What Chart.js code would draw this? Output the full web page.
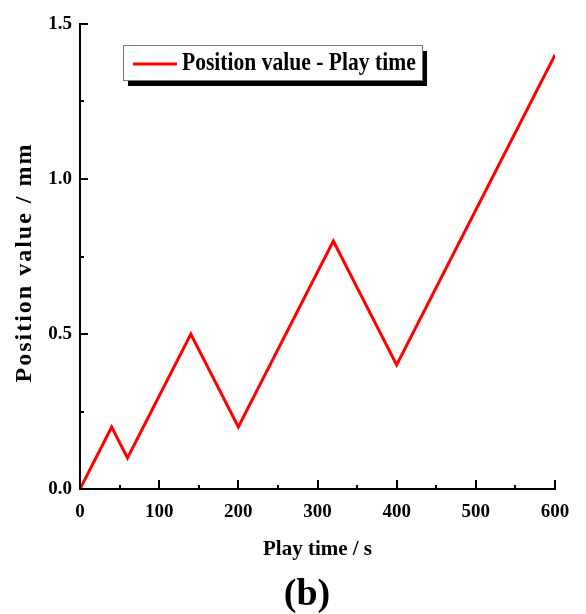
<!DOCTYPE html>
<html>
<head>
<meta charset="utf-8">
<script src="https://cdn.jsdelivr.net/npm/chart.js@4/dist/chart.umd.min.js"></script>
<style>
  html, body { margin: 0; padding: 0; background: #fff; }
  #wrap { width: 586px; height: 614px; }
</style>
</head>
<body>
<div id="wrap"><canvas id="positionChart" width="586" height="614"></canvas></div>
<script>
/* Data */
const playTime = [0, 40, 60, 140, 200, 320, 400, 600];
const positionValue = [0, 0.2, 0.1, 0.5, 0.2, 0.8, 0.4, 1.4];
const seriesLabel = 'Position value - Play time';
const xTitle = 'Play time / s';
const yTitle = 'Position value / mm';
const panelTag = '(b)';

const serif = '"Liberation Serif", "Times New Roman", serif';

// Inward major/minor ticks, y axis title, panel tag and boxed legend with a drop shadow
const decorPlugin = {
  id: 'decor',
  afterDraw(chart) {
    const ctx = chart.ctx;
    const xs = chart.scales.x;
    const ys = chart.scales.y;
    const area = chart.chartArea;
    ctx.save();
    ctx.strokeStyle = '#000';
    ctx.lineWidth = 2;
    // x ticks every 50, long ones every 100
    for (let v = xs.min; v <= xs.max; v += 50) {
      const px = Math.round(xs.getPixelForValue(v));
      const len = (v % 100 === 0) ? 9 : 4;
      ctx.beginPath();
      ctx.moveTo(px, area.bottom);
      ctx.lineTo(px, area.bottom - len);
      ctx.stroke();
    }
    // y ticks every 0.25, long ones every 0.5
    for (let i = 0; i <= 6; i++) {
      const py = Math.round(ys.getPixelForValue(i * 0.25));
      const len = (i % 2 === 0) ? 8 : 4;
      ctx.beginPath();
      ctx.moveTo(area.left, py);
      ctx.lineTo(area.left + len, py);
      ctx.stroke();
    }

    ctx.fillStyle = '#000';
    ctx.textAlign = 'center';
    ctx.textBaseline = 'middle';

    // y title, rotated, a bit spaced out
    ctx.save();
    ctx.translate(25, (area.top + area.bottom) / 2 + 6);
    ctx.rotate(-Math.PI / 2);
    ctx.font = 'bold 24px ' + serif;
    ctx.letterSpacing = '2px';
    ctx.fillText(yTitle, 0, 0);
    ctx.restore();

    // panel tag under the x title
    ctx.font = 'bold 38px ' + serif;
    ctx.fillText(panelTag, 307, 595);

    // legend box
    const ds = chart.data.datasets[0];
    const bx = 123, by = 45, bw = 299, bh = 35;
    ctx.fillStyle = '#000';
    ctx.fillRect(bx + 5, by + 6, bw, bh);
    ctx.fillStyle = '#fff';
    ctx.fillRect(bx, by, bw, bh);
    ctx.lineWidth = 1;
    ctx.strokeStyle = '#777';
    ctx.strokeRect(bx + 0.5, by + 0.5, bw, bh);
    ctx.strokeStyle = ds.borderColor;
    ctx.lineWidth = 3;
    ctx.beginPath();
    ctx.moveTo(133, 64);
    ctx.lineTo(177, 64);
    ctx.stroke();
    // narrow, tall legend lettering
    ctx.save();
    ctx.translate(182, 63);
    ctx.scale(0.83, 1);
    ctx.fillStyle = '#000';
    ctx.font = 'bold 26px ' + serif;
    ctx.textAlign = 'left';
    ctx.fillText(ds.label, 0, 0);
    ctx.restore();
    ctx.restore();
  }
};

const ctxPosition = document.getElementById('positionChart').getContext('2d');

const positionChart = new Chart(ctxPosition, {
  type: 'line',
  data: {
    datasets: [{
      label: seriesLabel,
      data: playTime.map((t, i) => ({ x: t, y: positionValue[i] })),
      borderColor: '#ff0000',
      backgroundColor: '#ff0000',
      borderWidth: 3,
      pointRadius: 0,
      tension: 0,
      fill: false
    }]
  },
  options: {
    responsive: false,
    animation: false,
    layout: {
      padding: { top: 24, right: 31, left: 0, bottom: 38 }
    },
    plugins: {
      legend: { display: false },
      tooltip: { enabled: false }
    },
    scales: {
      x: {
        type: 'linear',
        min: 0,
        max: 600,
        grid: { display: false, drawTicks: false },
        border: { display: true, color: '#000', width: 2 },
        ticks: {
          stepSize: 100,
          padding: 12,
          color: '#000',
          font: { family: serif, size: 19, weight: 'bold' }
        },
        title: {
          display: true,
          text: xTitle,
          color: '#000',
          font: { family: serif, size: 21, weight: 'bold', lineHeight: 1.2 },
          padding: { top: 0, bottom: 14 }
        },
        afterFit(scale) {
          scale.height = 87;
          scale.paddingLeft = 0;
          scale.paddingRight = 0;
        }
      },
      y: {
        type: 'linear',
        min: 0,
        max: 1.5,
        grid: { display: false, drawTicks: false },
        border: { display: true, color: '#000', width: 2 },
        ticks: {
          stepSize: 0.5,
          padding: 8,
          color: '#000',
          font: { family: serif, size: 19, weight: 'bold' },
          callback: (v) => Number(v).toFixed(1)
        },
        afterFit(scale) {
          scale.width = 80;
          scale.paddingTop = 0;
          scale.paddingBottom = 0;
        }
      }
    }
  },
  plugins: [decorPlugin]
});
</script>
</body>
</html>
